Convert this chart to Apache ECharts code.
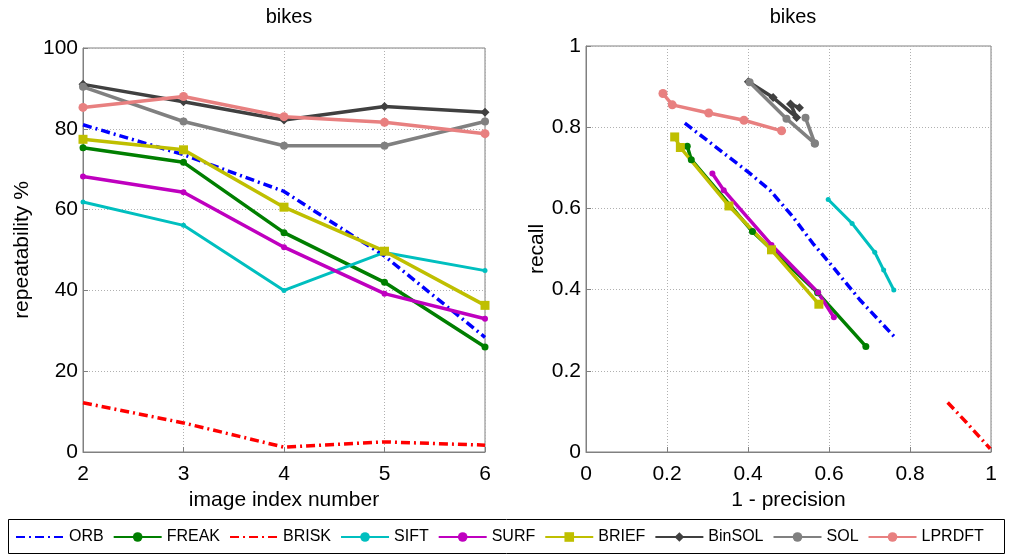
<!DOCTYPE html>
<html lang="en">
<head>
    <meta charset="UTF-8">
    <title>bikes</title>
    <script src="https://cdn.jsdelivr.net/npm/echarts@6/dist/echarts.min.js"></script>
    <style>
        html, body { margin: 0; padding: 0; background: #fff; }
        #chart { width: 1011px; height: 555px; }
    </style>
</head>
<body>
    <div id="chart"></div>
    <script>
        // left plot: repeatability per image index
        const imageIndex = [2, 3, 4, 5, 6];
        const repORB    = [81.0, 73.6, 64.5, 48.5, 28.4];
        const repFREAK  = [75.3, 71.7, 54.3, 42.0, 26.0];
        const repBRISK  = [12.2, 7.2, 1.2, 2.5, 1.7];
        const repSIFT   = [61.9, 56.1, 40.0, 49.4, 44.9];
        const repSURF   = [68.2, 64.3, 50.7, 39.2, 33.0];
        const repBRIEF  = [77.4, 74.8, 60.6, 49.7, 36.3];
        const repBinSOL = [91.0, 86.7, 82.2, 85.5, 84.1];
        const repSOL    = [90.4, 81.8, 75.8, 75.8, 81.8];
        const repLPRDFT = [85.3, 88.0, 83.0, 81.6, 78.8];

        // right plot: [1 - precision, recall]
        const prORB    = [[0.244, 0.810], [0.40, 0.690], [0.454, 0.645], [0.511, 0.579], [0.560, 0.514], [0.602, 0.465], [0.676, 0.375], [0.765, 0.280]];
        const prFREAK  = [[0.250, 0.753], [0.260, 0.720], [0.411, 0.543], [0.572, 0.392], [0.691, 0.260]];
        const prBRISK  = [[0.893, 0.122], [0.940, 0.072], [0.998, 0.008]];
        const prSIFT   = [[0.598, 0.622], [0.657, 0.563], [0.713, 0.492], [0.735, 0.448], [0.760, 0.399]];
        const prSURF   = [[0.312, 0.686], [0.340, 0.645], [0.458, 0.510], [0.573, 0.393], [0.612, 0.332]];
        const prBRIEF  = [[0.219, 0.776], [0.233, 0.750], [0.353, 0.606], [0.458, 0.498], [0.575, 0.364]];
        const prBinSOL = [[0.401, 0.912], [0.462, 0.873], [0.520, 0.824], [0.505, 0.857], [0.527, 0.848]];
        const prSOL    = [[0.404, 0.911], [0.495, 0.821], [0.565, 0.760], [0.565, 0.760], [0.542, 0.823]];
        const prLPRDFT = [[0.190, 0.883], [0.213, 0.855], [0.303, 0.835], [0.390, 0.817], [0.483, 0.791]];

        const methods = ['ORB', 'FREAK', 'BRISK', 'SIFT', 'SURF', 'BRIEF', 'BinSOL', 'SOL', 'LPRDFT'];
        const repData = [repORB, repFREAK, repBRISK, repSIFT, repSURF, repBRIEF, repBinSOL, repSOL, repLPRDFT];
        const prData = [prORB, prFREAK, prBRISK, prSIFT, prSURF, prBRIEF, prBinSOL, prSOL, prLPRDFT];

        const dashDot = [9, 4, 2, 4];
        const styles = {
            ORB:    { color: '#0000ff', width: 3.5, type: dashDot, symbol: 'none', size: 0 },
            FREAK:  { color: '#007f00', width: 3.5, type: 'solid', symbol: 'circle', size: 7 },
            BRISK:  { color: '#ff0000', width: 3.5, type: dashDot, symbol: 'none', size: 0 },
            SIFT:   { color: '#00bfbf', width: 3, type: 'solid', symbol: 'circle', size: 5 },
            SURF:   { color: '#bf00bf', width: 3.5, type: 'solid', symbol: 'circle', size: 6 },
            BRIEF:  { color: '#bfbf00', width: 3.5, type: 'solid', symbol: 'rect', size: 9 },
            BinSOL: { color: '#404040', width: 3.5, type: 'solid', symbol: 'diamond', size: 9 },
            SOL:    { color: '#808080', width: 3.5, type: 'solid', symbol: 'circle', size: 8 },
            LPRDFT: { color: '#e88080', width: 3.5, type: 'solid', symbol: 'circle', size: 9 }
        };

        const font = 'Liberation Sans, Arial, Helvetica, sans-serif';
        const gridLine = { show: true, lineStyle: { color: '#b0b0b0', type: [1, 2], width: 1 } };

        function makeAxis(gridIndex, min, max, interval, name, nameGap, isY) {
            return {
                type: 'value', gridIndex: gridIndex, min: min, max: max, interval: interval,
                name: name, nameLocation: 'middle', nameGap: nameGap,
                nameTextStyle: { fontFamily: font, fontSize: 21, color: '#000' },
                axisLine: { show: true, lineStyle: { color: '#808080', width: 1 } },
                axisTick: { show: true, inside: true, length: 5, lineStyle: { color: '#808080' } },
                axisLabel: { fontFamily: font, fontSize: 21, color: '#000', margin: isY ? 5 : 12 },
                splitLine: gridLine
            };
        }

        const series = [];
        methods.forEach((m, i) => {
            const s = styles[m];
            const common = {
                name: m, type: 'line', symbol: s.symbol, symbolSize: s.size,
                itemStyle: { color: s.color },
                lineStyle: { color: s.color, width: s.width, type: s.type },
                animation: false
            };
            series.push(Object.assign({}, common, {
                xAxisIndex: 0, yAxisIndex: 0,
                data: imageIndex.map((x, k) => [x, repData[i][k]])
            }));
            series.push(Object.assign({}, common, {
                xAxisIndex: 1, yAxisIndex: 1,
                data: prData[i]
            }));
        });

        // dashed entries have no marker in the legend
        const legendData = methods.map(m => styles[m].symbol === 'none'
            ? { name: m, itemStyle: { opacity: 0 } }
            : { name: m });

        const chart = echarts.init(document.getElementById('chart'));
        chart.setOption({
            animation: false,
            title: [
                { text: 'bikes', left: 284, top: 2, textAlign: 'center', textStyle: { fontFamily: font, fontSize: 20, fontWeight: 'normal', color: '#000' } },
                { text: 'bikes', left: 788, top: 2, textAlign: 'center', textStyle: { fontFamily: font, fontSize: 20, fontWeight: 'normal', color: '#000' } }
            ],
            grid: [
                { left: 83, top: 48, width: 402, height: 404, show: true, borderColor: '#808080', borderWidth: 1 },
                { left: 586, top: 46, width: 405, height: 406, show: true, borderColor: '#808080', borderWidth: 1 }
            ],
            xAxis: [
                makeAxis(0, 2, 6, 1, 'image index number', 34, false),
                makeAxis(1, 0, 1, 0.2, '1 - precision', 34, false)
            ],
            yAxis: [
                makeAxis(0, 0, 100, 20, 'repeatability %', 50, true),
                makeAxis(1, 0, 1, 0.2, 'recall', 20, true)
            ],
            graphic: [{
                type: 'rect', left: 8, top: 519,
                shape: { width: 996, height: 34 },
                style: { fill: '#fff', stroke: '#000', lineWidth: 1 },
                z: 5
            }],
            legend: {
                data: legendData, left: 15, right: 2, top: 529,
                itemWidth: 48, itemHeight: 12, itemGap: 9,
                padding: 0, z: 10,
                textStyle: { fontFamily: font, fontSize: 16, color: '#000' }
            },
            series: series
        });
    </script>
</body>
</html>
